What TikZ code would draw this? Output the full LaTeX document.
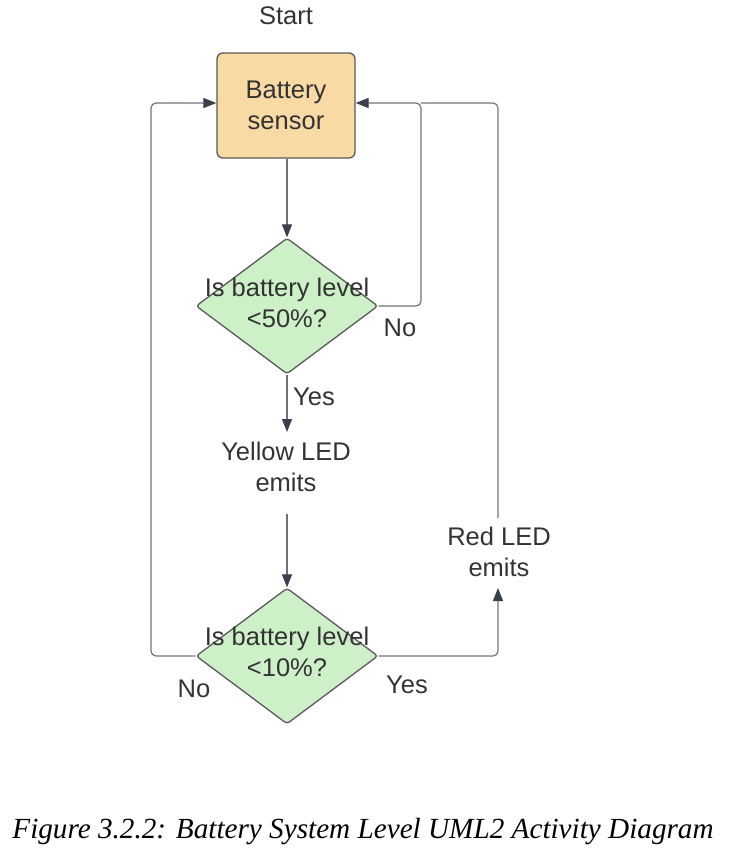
\documentclass[tikz,border=0pt]{standalone}
\usepackage{fontspec}
\setmainfont{Liberation Sans}
\newfontfamily\capfont{Liberation Serif}
\usetikzlibrary{shapes.geometric,arrows.meta}
\definecolor{boxfill}{RGB}{249,217,164}
\definecolor{diafill}{RGB}{206,240,200}
\definecolor{edgecol}{RGB}{90,90,90}
\definecolor{linecol}{RGB}{112,116,122}
\definecolor{tipcol}{RGB}{58,64,74}
\definecolor{txtcol}{RGB}{51,51,51}
\tikzset{
  lbl/.style={font=\fontsize{25.5}{30.5}\selectfont, text=txtcol, align=center, inner sep=0pt},
  sensorbox/.style={draw=edgecol, fill=boxfill, line width=1.3pt, rounded corners=6pt,
    minimum width=138pt, minimum height=105pt, inner sep=0pt},
  decision/.style={shape=diamond, draw=edgecol, fill=diafill, line width=1.3pt, rounded corners=3pt,
    minimum width=182pt, minimum height=136pt, inner sep=0pt},
  flow/.style={draw=linecol, line width=1.2pt, rounded corners=5pt,
    -{Triangle[length=13pt,width=10pt,color=tipcol]}},
  plainflow/.style={draw=linecol, line width=1.2pt, rounded corners=5pt},
}
\begin{document}
\begin{tikzpicture}[x=1pt,y=-1pt]
\useasboundingbox (0,0) rectangle (729,854);
\node[lbl] (start) at (286,16) {Start};
\node[sensorbox] (bs) at (286,105.5) {};
\node[lbl] (bstxt) at (bs.center) {Battery\\sensor};
\node[decision] (d1) at (287,306) {};
\node[lbl] (d1txt) at (287,303) {Is battery level\\<50\%?};
\node[lbl] (yl) at (286,467) {Yellow LED\\emits};
\node[decision] (d2) at (287,656) {};
\node[lbl] (d2txt) at (287,652) {Is battery level\\<10\%?};
\node[lbl] (rl) at (499,552) {Red LED\\emits};
\coordinate (ylt) at (287,432);
\coordinate (ylb) at (287,514);
\coordinate (rlt) at (498,518);
\coordinate (rlb) at (498,588);
\coordinate (bsl) at (bs.west |- 0,103);
\coordinate (bsr) at (bs.east |- 0,103);
% connectors
\draw[flow] (bs.south -| 287,0) -- (d1.north);
\draw[flow] (d1.east) -- (421,306) -- (421,103) -- (bsr);
\draw[plainflow] (rlt) -- (498,103) -- (421,103);
\draw[flow] (d1.south) -- (ylt);
\draw[flow] (ylb) -- (d2.north);
\draw[flow] (d2.west) -- (151,656) -- (151,103) -- (bsl);
\draw[flow] (d2.east) -- (498,656) -- (rlb);
% labels
\node[lbl] (no1) at (400,328) {No};
\node[lbl] (yes1) at (314,397) {Yes};
\node[lbl] (no2) at (194,689) {No};
\node[lbl] (yes2) at (407,685) {Yes};
% caption
\node[font=\capfont\itshape\fontsize{29.2}{34}\selectfont, inner sep=0pt] (cap) at (363,832) {Figure 3.2.2: Battery System Level UML2 Activity Diagram};
\end{tikzpicture}
\end{document}
